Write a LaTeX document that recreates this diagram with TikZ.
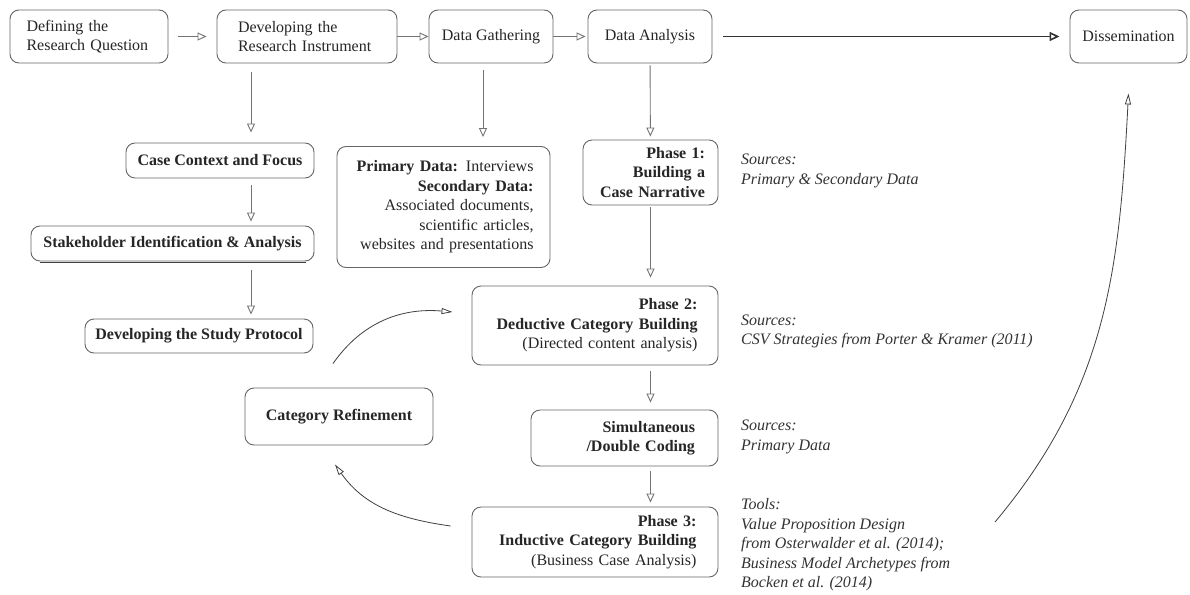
\documentclass[tikz,border=0pt]{standalone}
\usepackage{fontspec}
\setmainfont{Liberation Serif}
\usetikzlibrary{arrows.meta}

\begin{document}
\begin{tikzpicture}[
        x=1pt, y=-1pt,
        every node/.style={font=\fontsize{16}{19.5}\selectfont, text=black!85},
        box/.style={draw=black!60, line width=0.9pt, rounded corners=9pt, inner ysep=2pt},
        note/.style={font=\fontsize{16}{19.5}\selectfont\itshape, align=left, anchor=west, inner sep=0pt, text=black!80},
        arr/.style={draw=black!55, line width=0.9pt, -{Triangle[open, length=9pt, width=8pt]}},
        mainarr/.style={draw=black!80, line width=1.6pt, -{Triangle[open, length=10pt, width=9pt]}},
        bendarr/.style={draw=black!75, line width=0.8pt, -{Triangle[open, length=11pt, width=6pt]}}]

        \fill[white] (0,0) rectangle (1190,594);
        \useasboundingbox (0,0) rectangle (1190,594);

        \node[box, minimum width=158pt, minimum height=53pt, text width=125pt, align=left] (def) at (89,36.5) {Defining the\\Research Question};
        \node[box, minimum width=180pt, minimum height=53pt, text width=138pt, align=left] (dev) at (307,36.5) {Developing the\\Research Instrument};
        \node[box, minimum width=124pt, minimum height=53pt] (gath) at (491,36.5) {Data Gathering};
        \node[box, minimum width=124pt, minimum height=53pt] (ana) at (650,36.5) {Data Analysis};
        \node[box, minimum width=117pt, minimum height=53pt] (diss) at (1128.5,36.5) {Dissemination};

        \node[box, minimum width=188pt, minimum height=35pt] (case) at (220,160.5) {\textbf{Case Context and Focus}};
        \node[box, minimum width=283pt, minimum height=35pt] (stake) at (172.5,243.5) {\textbf{Stakeholder Identification \& Analysis}};
        \node[box, minimum width=228pt, minimum height=34pt] (proto) at (199,336) {\textbf{Developing the Study Protocol}};

        \node[box, minimum width=213pt, minimum height=121pt, text width=180pt, align=right] (prim) at (443.5,207) {\textbf{Primary Data:} Interviews\\\textbf{Secondary Data:}\\Associated documents,\\scientific articles,\\websites and presentations};

        \node[box, minimum height=65pt, inner xsep=13pt, text width=109pt, align=right] (ph1) at (650.5,172.5) {\textbf{Phase 1:}\\\textbf{Building a}\\\textbf{Case Narrative}};
        \node[box, minimum width=246pt, minimum height=79pt, text width=205pt, align=right] (ph2) at (595,325.5) {\textbf{Phase 2:}\\\textbf{Deductive Category Building}\\(Directed content analysis)};
        \node[box, minimum width=187pt, minimum height=56pt, text width=141pt, align=right] (simul) at (624.5,438) {\textbf{Simultaneous}\\\textbf{/Double Coding}};
        \node[box, minimum width=246pt, minimum height=70pt, text width=203pt, align=right] (ph3) at (595,542) {\textbf{Phase 3:}\\\textbf{Inductive Category Building}\\(Business Case Analysis)};

        \node[box, minimum width=188pt, minimum height=57pt] (cat) at (339,416.5) {\textbf{Category Refinement}};

        \node[note] (src1) at (741,171) {Sources:\\Primary \& Secondary Data};
        \node[note] (src2) at (741,331.5) {Sources:\\CSV Strategies from Porter \& Kramer (2011)};
        \node[note] (src3) at (741,437) {Sources:\\Primary Data};
        \node[note] (tools) at (741,545) {Tools:\\Value Proposition Design\\from Osterwalder et al. (2014);\\Business Model Archetypes from\\Bocken et al. (2014)};

        \coordinate (colA) at (251,0);
        \coordinate (colB) at (483,0);
        \coordinate (tail) at (995,522);

        \draw[line width=1.6pt, black!75] ([shift={(9pt,-1pt)}]stake.south west) -- ([shift={(-8pt,-1pt)}]stake.south east);

        \draw[arr, shorten <=10pt, shorten >=10pt] (def) -- (dev);
        \draw[arr] (dev) -- (gath);
        \draw[arr, shorten >=2pt] (gath) -- (ana);
        \draw[mainarr, shorten <=11pt, shorten >=10pt] (ana) -- (diss);

        \draw[arr, shorten <=9pt, shorten >=10pt] (dev.south -| colA) -- (case.north -| colA);
        \draw[arr, shorten <=7pt, shorten >=4pt] (case.south -| colA) -- (stake.north -| colA);
        \draw[arr, shorten <=9pt, shorten >=4pt] (stake.south -| colA) -- (proto.north -| colA);
        \draw[arr, shorten <=7pt, shorten >=9pt] (gath.south -| colB) -- (prim.north -| colB);

        \draw[arr, shorten <=2pt, shorten >=3pt] (ana) -- (ph1);
        \draw[arr, shorten <=2pt, shorten >=8pt] (ph1.south) -- (ph1.south |- ph2.north);
        \draw[arr, shorten <=6pt, shorten >=7pt] (ph1.south |- ph2.south) -- (ph1.south |- simul.north);
        \draw[arr, shorten <=5pt, shorten >=4pt] (ph1.south |- simul.south) -- (ph1.south |- ph3.north);

        \draw[bendarr] ([shift={(-6pt,24pt)}]cat.north) to[out=55, in=175] ([shift={(-19pt,13.5pt)}]ph2.west);
        \draw[bendarr] ([shift={(-21pt,16pt)}]ph3.west) to[out=172, in=-55] ([shift={(-4pt,-19pt)}]cat.south);
        \draw[bendarr] (tail) to[out=50, in=-93] ([yshift=-30pt]diss.south);

    \end{tikzpicture}
\end{document}
